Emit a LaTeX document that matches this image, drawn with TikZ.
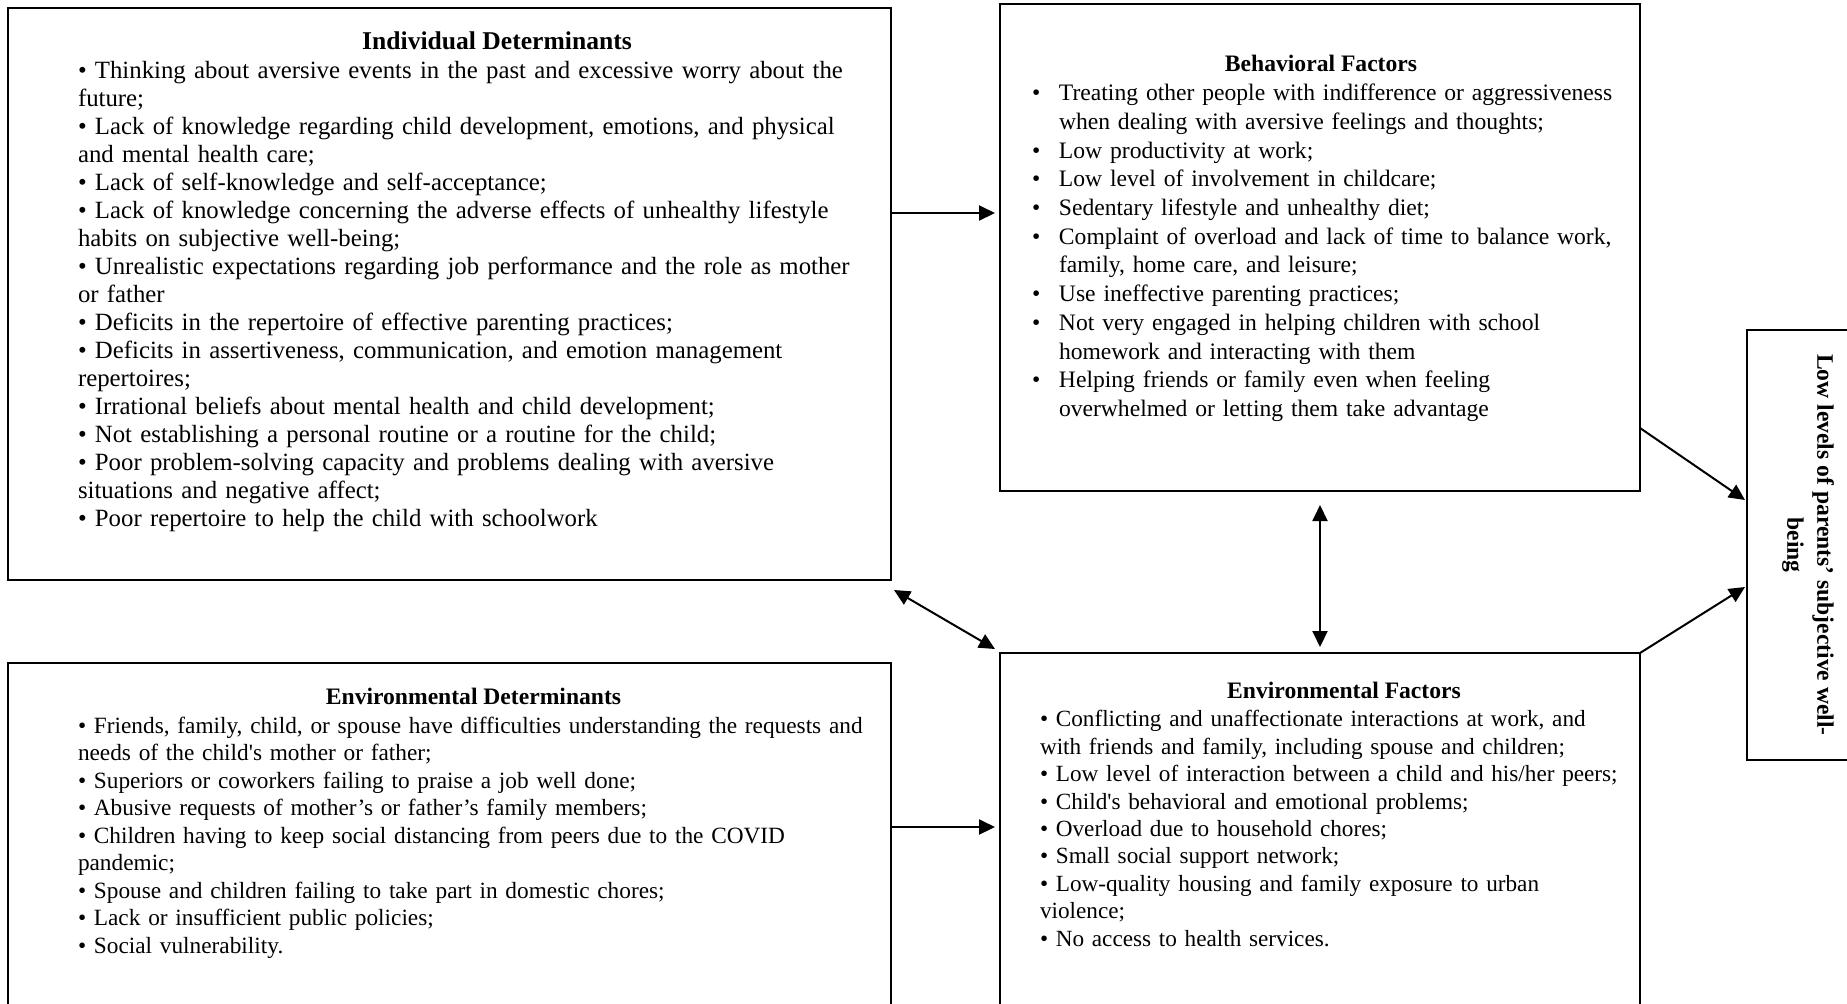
\documentclass[tikz,border=0pt]{standalone}
\usepackage{fontspec}
\setmainfont{Liberation Serif}
\usetikzlibrary{arrows.meta}
\setlength\parskip{0pt}
\setlength\parindent{0pt}

% one bullet point with a hanging indent
\newcommand\hitem[1]{\par\noindent\strut\makebox[13.5pt][l]{•}#1\hangindent=13.5pt\hangafter=1\par}

\begin{document}
\begin{tikzpicture}[x=0.5pt,y=-0.5pt,
  box/.style={draw, line width=0.9pt, inner sep=0pt, outer sep=0pt},
  head/.style={anchor=base, inner sep=0pt, outer sep=0pt},
  body/.style={anchor=north west, inner sep=0pt, outer sep=0pt, text width=#1},
  arr/.style={line width=1pt, -{Triangle[length=8pt,width=7.5pt]}},
  darr/.style={line width=1pt, {Triangle[length=8pt,width=7.5pt]}-{Triangle[length=8pt,width=7.5pt]}}
]
\useasboundingbox (0,0) rectangle (1847,1003);

% boxes
\node[box, minimum width=441.5pt, minimum height=286pt] (ind) at (449.5,294) {};
\node[box, minimum width=441.5pt, minimum height=178.5pt] (envd) at (449.5,841.5) {};
\node[box, minimum width=320pt, minimum height=243.5pt] (beh) at (1320,247.5) {};
\node[box, minimum width=320pt, minimum height=183.5pt] (envf) at (1320,836.5) {};
\node[box, minimum width=64.5pt, minimum height=215pt] (low) at (1811.5,545) {};

% individual determinants
\node[head, font=\fontsize{12.8}{14}\selectfont\bfseries] (indT) at (497,49) {Individual Determinants};
\node[body=440pt, font=\fontsize{12.4}{14}\selectfont] (indB) at (78,59) {\raggedright\strut
• Thinking about aversive events in the past and excessive worry about the\\
future;\\
• Lack of knowledge regarding child development, emotions, and physical\\
and mental health care;\\
• Lack of self-knowledge and self-acceptance;\\
• Lack of knowledge concerning the adverse effects of unhealthy lifestyle\\
habits on subjective well-being;\\
• Unrealistic expectations regarding job performance and the role as mother\\
or father\\
• Deficits in the repertoire of effective parenting practices;\\
• Deficits in assertiveness, communication, and emotion management\\
repertoires;\\
• Irrational beliefs about mental health and child development;\\
• Not establishing a personal routine or a routine for the child;\\
• Poor problem-solving capacity and problems dealing with aversive\\
situations and negative affect;\\
• Poor repertoire to help the child with schoolwork\par};

% behavioral factors
\node[head, font=\fontsize{11.8}{14.35}\selectfont\bfseries] (behT) at (1321,71.5) {Behavioral Factors};
\node[body=300pt, font=\fontsize{11.8}{14.35}\selectfont] (behB) at (1032,72) {\raggedright
\hitem{Treating other people with indifference or aggressiveness\newline when dealing with aversive feelings and thoughts;}
\hitem{Low productivity at work;}
\hitem{Low level of involvement in childcare;}
\hitem{Sedentary lifestyle and unhealthy diet;}
\hitem{Complaint of overload and lack of time to balance work,\newline family, home care, and leisure;}
\hitem{Use ineffective parenting practices;}
\hitem{Not very engaged in helping children with school\newline homework and interacting with them}
\hitem{Helping friends or family even when feeling\newline overwhelmed or letting them take advantage}};

% environmental determinants
\node[head, font=\fontsize{11.8}{13.75}\selectfont\bfseries] (envdT) at (473.5,704) {Environmental Determinants};
\node[body=430pt, font=\fontsize{11.65}{13.75}\selectfont] (envdB) at (78,713.75) {\raggedright\strut
• Friends, family, child, or spouse have difficulties understanding the requests and\\
needs of the child\textquotesingle s mother or father;\\
• Superiors or coworkers failing to praise a job well done;\\
• Abusive requests of mother’s or father’s family members;\\
• Children having to keep social distancing from peers due to the COVID\\
pandemic;\\
• Spouse and children failing to take part in domestic chores;\\
• Lack or insufficient public policies;\\
• Social vulnerability.\par};

% environmental factors
\node[head, font=\fontsize{11.8}{13.7}\selectfont\bfseries] (envfT) at (1344,698.6) {Environmental Factors};
\node[body=305pt, font=\fontsize{11.6}{13.7}\selectfont] (envfB) at (1040,707.8) {\raggedright\strut
• Conflicting and unaffectionate interactions at work, and\\
with friends and family, including spouse and children;\\
• Low level of interaction between a child and his/her peers;\\
• Child\textquotesingle s behavioral and emotional problems;\\
• Overload due to household chores;\\
• Small social support network;\\
• Low-quality housing and family exposure to urban\\
violence;\\
• No access to health services.\par};

% outcome (text set slightly left of the box centre, the box runs past the edge)
\node[inner sep=0pt, rotate=-90, align=center, font=\fontsize{11.8}{15}\selectfont\bfseries] (lowT) at ([xshift=-1.75pt]low.center) {Low levels of parents’ subjective well-\\being};

% connectors
\draw[arr] ([yshift=40.5pt]ind.east) -- ([shift={(-5,-34.5)}]beh.west);
\draw[arr] ([yshift=7.25pt]envd.east) -- ([shift={(-5,-9.5)}]envf.west);
\draw[darr] ([shift={(3,10)}]ind.south east) -- ([shift={(-5,-4)}]envf.north west);
\draw[darr] ([shift={(0,14)}]beh.south) -- ([shift={(0,-6)}]envf.north);
\draw[arr] ([shift={(0,-63)}]beh.south east) -- ([shift={(-2,-45)}]low.west);
\draw[arr] (envf.north east) -- ([shift={(-2,42)}]low.west);
\end{tikzpicture}
\end{document}
